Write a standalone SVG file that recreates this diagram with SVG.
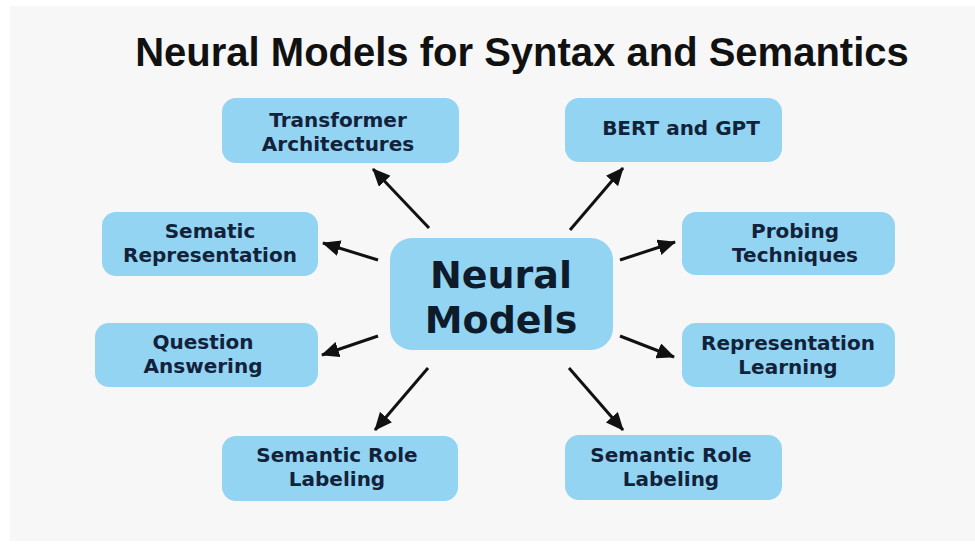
<svg xmlns="http://www.w3.org/2000/svg" width="975" height="551" viewBox="0 0 975 551">
<defs>
<style>
.box{fill:#93d4f3;}
.lbl{font-family:"DejaVu Sans",Verdana,sans-serif;font-weight:bold;font-size:20px;fill:#12223a;text-anchor:middle;}
.big{font-family:"DejaVu Sans",Verdana,sans-serif;font-weight:bold;font-size:38px;fill:#0d1b2a;text-anchor:middle;}
.title{font-family:"Liberation Sans",Arial,sans-serif;font-weight:bold;font-size:40px;fill:#111;text-anchor:middle;}
.conn line{stroke:#111;stroke-width:3;marker-end:url(#ah);}
</style>
<marker id="ah" markerUnits="userSpaceOnUse" markerWidth="18" markerHeight="16" refX="17" refY="8" orient="auto">
<path d="M0,0 L18,8 L0,16 Z" fill="#111"/>
</marker>
</defs>
<rect width="975" height="551" fill="#ffffff"/>
<rect x="10" y="6" width="965" height="535" fill="#f7f7f7"/>
<text class="title" x="522" y="66">Neural Models for Syntax and Semantics</text>
<g class="conn" id="connectors">
<line x1="429" y1="228" x2="373" y2="169"/>
<line x1="378" y1="260" x2="323" y2="243"/>
<line x1="570" y1="230" x2="623" y2="168"/>
<line x1="620" y1="260" x2="675" y2="242"/>
<line x1="378" y1="336" x2="322" y2="355"/>
<line x1="620" y1="336" x2="674" y2="357"/>
<line x1="428" y1="368" x2="375" y2="430"/>
<line x1="569" y1="368" x2="623" y2="430"/>
</g>
<g id="center">
<rect class="box" x="390" y="238" width="223" height="112" rx="22"/>
<text class="big" x="501" y="288">Neural</text>
<text class="big" x="501" y="333">Models</text>
</g>
<g id="transformer">
<rect class="box" x="222" y="98" width="237" height="65" rx="14"/>
<text class="lbl" x="338" y="127">Transformer</text>
<text class="lbl" x="338" y="151">Architectures</text>
</g>
<g id="bert">
<rect class="box" x="565" y="98" width="217" height="64" rx="14"/>
<text class="lbl" x="681" y="135">BERT and GPT</text>
</g>
<g id="sematic">
<rect class="box" x="102" y="212" width="216" height="64" rx="14"/>
<text class="lbl" x="210" y="238">Sematic</text>
<text class="lbl" x="210" y="262">Representation</text>
</g>
<g id="probing">
<rect class="box" x="682" y="212" width="213" height="63" rx="14"/>
<text class="lbl" x="795" y="238">Probing</text>
<text class="lbl" x="795" y="262">Techniques</text>
</g>
<g id="qa">
<rect class="box" x="95" y="323" width="223" height="64" rx="14"/>
<text class="lbl" x="203" y="349">Question</text>
<text class="lbl" x="203" y="373">Answering</text>
</g>
<g id="replearn">
<rect class="box" x="682" y="323" width="213" height="64" rx="14"/>
<text class="lbl" x="788" y="350">Representation</text>
<text class="lbl" x="788" y="374">Learning</text>
</g>
<g id="srl-left">
<rect class="box" x="222" y="436" width="236" height="65" rx="14"/>
<text class="lbl" x="337" y="462">Semantic Role</text>
<text class="lbl" x="337" y="486">Labeling</text>
</g>
<g id="srl-right">
<rect class="box" x="565" y="435" width="217" height="65" rx="14"/>
<text class="lbl" x="671" y="462">Semantic Role</text>
<text class="lbl" x="671" y="486">Labeling</text>
</g>
</svg>
